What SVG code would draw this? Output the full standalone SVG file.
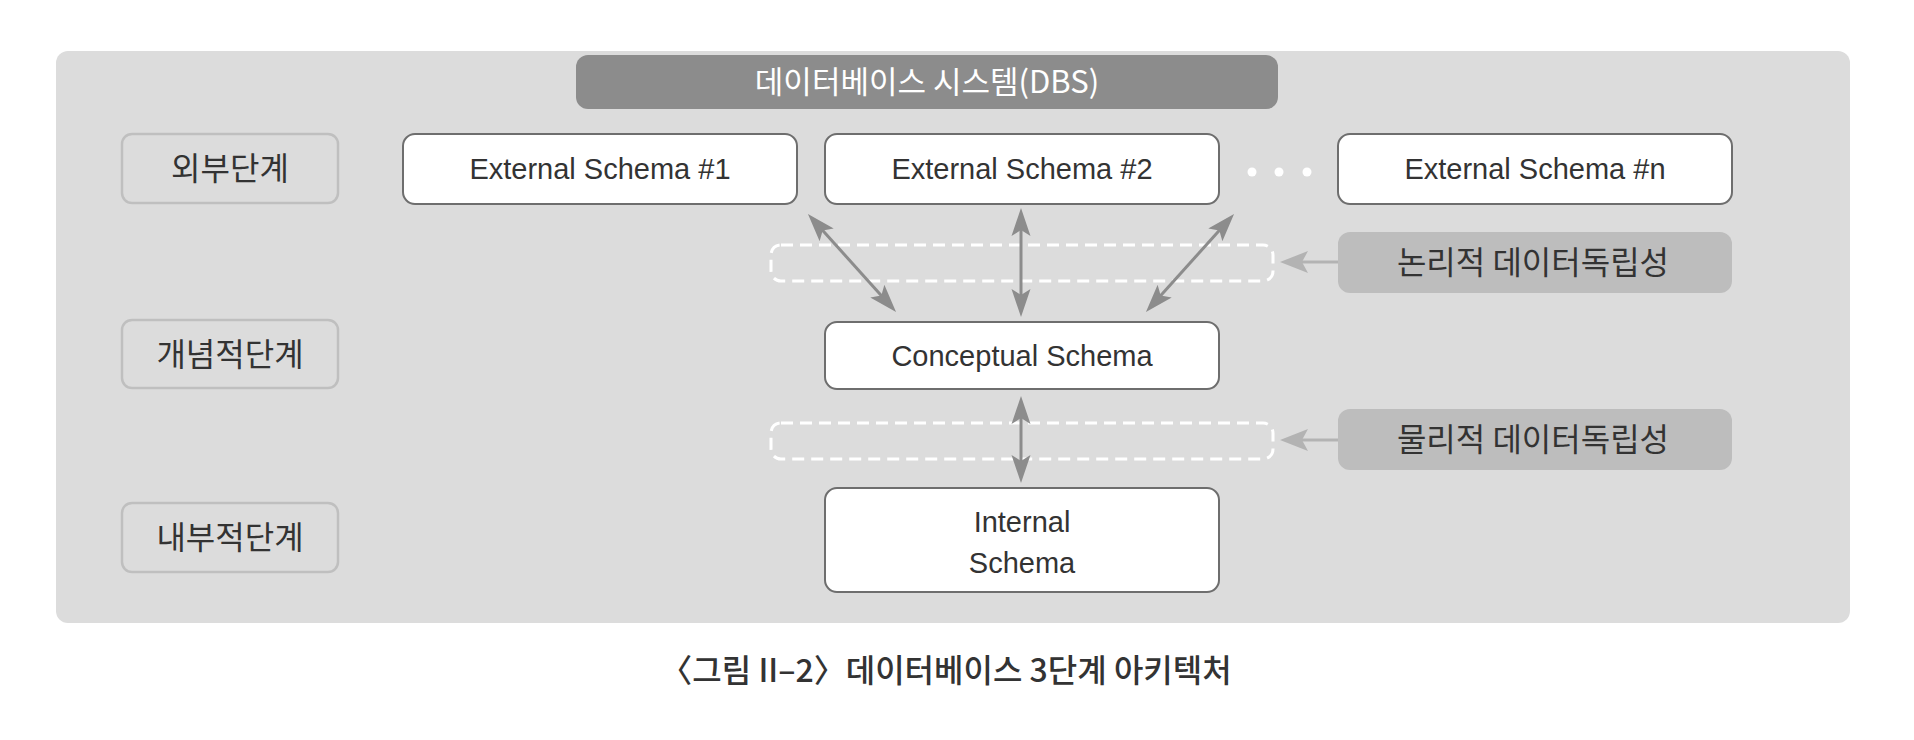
<svg xmlns="http://www.w3.org/2000/svg" width="1914" height="740" viewBox="0 0 1914 740">
  <style>
    .ko { font-family: "Noto Sans CJK KR", "Noto Sans", sans-serif; }
    .en { font-family: "Liberation Sans", Arial, sans-serif; }
    .lvl { fill: #dcdcdc; stroke: #bfbfbf; stroke-width: 2.5; }
    .lvlt { font-size: 32px; fill: #333333; text-anchor: middle; }
    .sch { fill: #ffffff; stroke: #6e6e6e; stroke-width: 2; }
    .scht { font-size: 29px; fill: #333333; text-anchor: middle; }
    .ind { fill: #bdbdbd; }
    .indt { font-size: 32px; fill: #333333; text-anchor: middle; }
    .dash { fill: none; stroke: #ffffff; stroke-width: 3; stroke-dasharray: 12 7; }
    .conn { stroke: #8c8c8c; stroke-width: 3; fill: none; marker-start: url(#ah); marker-end: url(#ah); }
    .lconn { stroke: #b3b3b3; stroke-width: 3; fill: none; marker-end: url(#lah); }
  </style>
  <defs>
    <marker id="ah" viewBox="0 0 28 20" refX="20" refY="10" markerWidth="28" markerHeight="20" markerUnits="userSpaceOnUse" orient="auto-start-reverse">
      <path d="M28,10 L0,0.5 L6,10 L0,19.5 Z" fill="#8c8c8c"/>
    </marker>
    <marker id="lah" viewBox="0 0 28 22" refX="20" refY="11" markerWidth="28" markerHeight="22" markerUnits="userSpaceOnUse" orient="auto">
      <path d="M28,11 L0,0 L6,11 L0,22 Z" fill="#b3b3b3"/>
    </marker>
  </defs>

  <rect x="0" y="0" width="1914" height="740" fill="#ffffff"/>

  <g id="panel">
    <rect x="56" y="51" width="1794" height="572" rx="12" fill="#dcdcdc"/>
  </g>

  <g id="dbs-title">
    <rect x="576" y="55" width="702" height="54" rx="12" fill="#8c8c8c"/>
    <text class="ko" x="927" y="93" font-size="31" fill="#ffffff" text-anchor="middle">데이터베이스 시스템(DBS)</text>
  </g>

  <g id="level-external">
    <rect class="lvl" x="122" y="134" width="216" height="69" rx="10"/>
    <text class="ko lvlt" x="230" y="180">외부단계</text>
  </g>
  <g id="level-conceptual">
    <rect class="lvl" x="122" y="320" width="216" height="68" rx="10"/>
    <text class="ko lvlt" x="230" y="366">개념적단계</text>
  </g>
  <g id="level-internal">
    <rect class="lvl" x="122" y="503" width="216" height="69" rx="10"/>
    <text class="ko lvlt" x="230" y="549">내부적단계</text>
  </g>

  <g id="external-schema-1">
    <rect class="sch" x="403" y="134" width="394" height="70" rx="12"/>
    <text class="en scht" x="600" y="179">External Schema #1</text>
  </g>
  <g id="external-schema-2">
    <rect class="sch" x="825" y="134" width="394" height="70" rx="12"/>
    <text class="en scht" x="1022" y="179">External Schema #2</text>
  </g>
  <g id="ellipsis">
    <circle cx="1252" cy="172" r="4.5" fill="#ffffff"/>
    <circle cx="1279" cy="172" r="4.5" fill="#ffffff"/>
    <circle cx="1307" cy="172" r="4.5" fill="#ffffff"/>
  </g>
  <g id="external-schema-n">
    <rect class="sch" x="1338" y="134" width="394" height="70" rx="12"/>
    <text class="en scht" x="1535" y="179">External Schema #n</text>
  </g>

  <g id="logical-boundary">
    <rect class="dash" x="771" y="245" width="502" height="36" rx="10"/>
  </g>
  <g id="logical-independence">
    <rect class="ind" x="1338" y="232" width="394" height="61" rx="12"/>
    <text class="ko indt" x="1533" y="274">논리적 데이터독립성</text>
  </g>

  <g id="conceptual-schema">
    <rect class="sch" x="825" y="322" width="394" height="67" rx="12"/>
    <text class="en scht" x="1022" y="366">Conceptual Schema</text>
  </g>

  <g id="physical-boundary">
    <rect class="dash" x="771" y="423" width="502" height="36" rx="10"/>
  </g>
  <g id="physical-independence">
    <rect class="ind" x="1338" y="409" width="394" height="61" rx="12"/>
    <text class="ko indt" x="1533" y="451">물리적 데이터독립성</text>
  </g>

  <g id="internal-schema">
    <rect class="sch" x="825" y="488" width="394" height="104" rx="12"/>
    <text class="en scht" x="1022" y="532">Internal</text>
    <text class="en scht" x="1022" y="573">Schema</text>
  </g>

  <g id="connectors">
    <line class="conn" x1="813.3" y1="220" x2="890.7" y2="306"/>
    <line class="conn" x1="1021" y1="216" x2="1021" y2="309"/>
    <line class="conn" x1="1228.7" y1="220" x2="1151.3" y2="306"/>
    <line class="conn" x1="1021" y1="404" x2="1021" y2="475"/>
    <line class="lconn" x1="1338" y1="262" x2="1288" y2="262"/>
    <line class="lconn" x1="1338" y1="440" x2="1288" y2="440"/>
  </g>

  <g id="caption">
    <text class="ko" x="946" y="682" font-size="32" font-weight="500" fill="#333333" text-anchor="middle">〈그림 II–2〉데이터베이스 3단계 아키텍처</text>
  </g>
</svg>
